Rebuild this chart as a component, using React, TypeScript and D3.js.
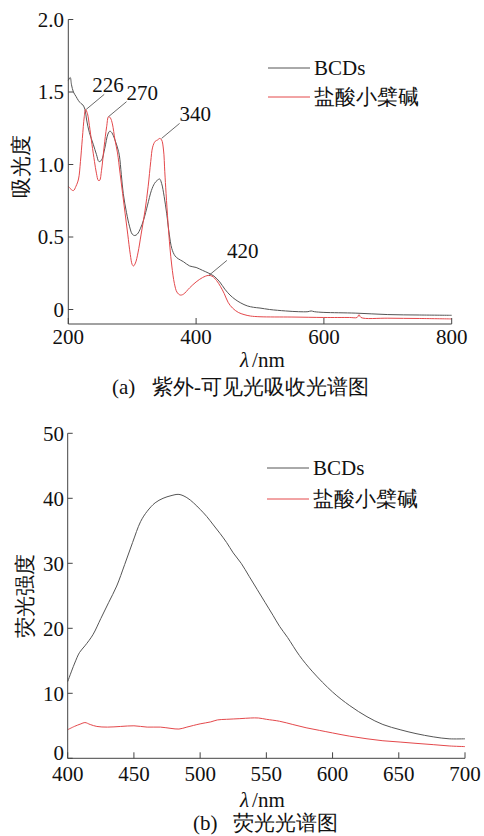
import * as d3 from "d3";

// ── Data ──────────────────────────────────────────────────────────────────────

// (a) UV-vis absorbance
const uvBcdWl = [200, 203, 205, 208, 212, 216, 220, 223, 226, 229, 233, 239, 244, 248, 252, 257, 262, 265, 268, 273, 278, 280, 283, 286, 291, 296, 300, 304, 308, 313, 318, 324, 330, 335, 339, 343, 346, 350, 354, 358, 362, 367, 372, 380, 390, 400, 410, 420, 428, 437, 445, 453, 461, 470, 480, 490, 500, 515, 540, 560, 575, 580, 585, 600, 650, 700, 750, 800];
const uvBcdVal = [1.58, 1.6, 1.55, 1.5, 1.47, 1.44, 1.42, 1.41, 1.38, 1.3, 1.22, 1.14, 1.07, 1.02, 1.03, 1.11, 1.21, 1.23, 1.22, 1.17, 1.1, 1.06, 0.93, 0.8, 0.67, 0.57, 0.52, 0.51, 0.52, 0.56, 0.62, 0.72, 0.82, 0.87, 0.89, 0.9, 0.87, 0.78, 0.66, 0.52, 0.42, 0.37, 0.35, 0.33, 0.3, 0.29, 0.27, 0.25, 0.23, 0.19, 0.14, 0.1, 0.07, 0.045, 0.025, 0.015, 0.01, 0.0, -0.01, -0.015, -0.015, -0.01, -0.015, -0.02, -0.025, -0.035, -0.038, -0.04];

const uvBbrWl = [200, 204, 208, 212, 216, 219, 222, 225, 227, 230, 233, 237, 241, 244, 247, 249, 252, 256, 260, 263, 266, 269, 273, 277, 281, 285, 289, 293, 297, 300, 302, 305, 309, 314, 320, 325, 329, 332, 336, 340, 343, 346, 349, 351, 353, 356, 359, 362, 366, 370, 375, 380, 390, 400, 410, 419, 425, 432, 438, 444, 450, 457, 466, 475, 485, 500, 550, 600, 640, 652, 655, 658, 700, 750, 800];
const uvBbrVal = [0.85, 0.83, 0.82, 0.85, 0.9, 1.02, 1.18, 1.33, 1.38, 1.35, 1.27, 1.14, 1.02, 0.94, 0.89, 0.89, 0.96, 1.12, 1.26, 1.33, 1.32, 1.28, 1.17, 1.08, 0.94, 0.8, 0.66, 0.52, 0.38, 0.31, 0.3, 0.32, 0.39, 0.52, 0.68, 0.85, 1.02, 1.12, 1.16, 1.17, 1.18, 1.17, 1.1, 0.95, 0.8, 0.6, 0.43, 0.3, 0.18, 0.12, 0.1, 0.105, 0.15, 0.19, 0.22, 0.235, 0.23, 0.2, 0.16, 0.11, 0.05, 0.01, -0.02, -0.035, -0.045, -0.05, -0.052, -0.055, -0.055, -0.055, -0.035, -0.055, -0.06, -0.062, -0.065];

const uvXTicks = [200, 400, 600, 800];
const uvYTicks = [0, 0.5, 1.0, 1.5, 2.0];
const uvYTickLabels = ["0", "0.5", "1.0", "1.5", "2.0"];

// peak annotations: label, anchor wavelength, anchor value
const peakLabels = ["226", "270", "340", "420"];
const peakWl = [228, 263, 346, 420];
const peakVal = [1.38, 1.33, 1.18, 0.235];

// (b) fluorescence
const flBcdWl = [400, 405, 409, 413, 419, 425, 431, 437, 443, 449, 455, 460, 466, 472, 478, 484, 490, 495, 500, 505, 510, 515, 520, 525, 531, 537, 543, 549, 555, 560, 566, 575, 585, 600, 613, 626, 638, 651, 663, 676, 688, 700];
const flBcdVal = [11.8, 14.5, 16.3, 17.3, 19.0, 21.5, 24.0, 26.5, 29.8, 33.2, 36.4, 38.0, 39.3, 40.0, 40.4, 40.6, 40.1, 39.3, 38.3, 37.2, 35.9, 34.6, 33.2, 31.6, 30.0, 28.0, 26.0, 24.0, 22.0, 20.3, 18.6, 15.8, 13.3, 10.2, 8.1, 6.4, 5.2, 4.4, 3.8, 3.3, 3.0, 3.0];

const flBbrWl = [400, 405, 410, 413, 417, 422, 430, 440, 450, 460, 470, 478, 484, 490, 500, 508, 513, 520, 530, 538, 544, 550, 560, 570, 580, 590, 600, 613, 626, 638, 651, 663, 676, 688, 700];
const flBbrVal = [4.4, 4.9, 5.3, 5.5, 5.2, 4.9, 4.8, 4.9, 5.0, 4.8, 4.8, 4.6, 4.5, 4.8, 5.3, 5.6, 5.9, 6.0, 6.1, 6.2, 6.2, 6.0, 5.7, 5.2, 4.7, 4.3, 3.9, 3.4, 3.0, 2.7, 2.5, 2.3, 2.1, 1.9, 1.8];

const flXTicks = [400, 450, 500, 550, 600, 650, 700];
const flYTicks = [0, 10, 20, 30, 40, 50];

const seriesNames = ["BCDs", "盐酸小檗碱"];

// ── Style ─────────────────────────────────────────────────────────────────────

const W = 484;
const H = 836;
const AXIS = "#444";
const C_BCD = "#555";
const C_BBR = "#e4484b";
const FS = 21;
// font set on every text element, so nothing outside can override it
const TXT = { fontFamily: '"Liberation Serif"', fontSize: FS, fill: "#111" };

type Pt = [number, number];
const zip = (xs: number[], ys: number[]): Pt[] => xs.map((x, i) => [x, ys[i]]);

// ── Panels ────────────────────────────────────────────────────────────────────

function Legend({ x, y, gap }: { x: number; y: number; gap: number }) {
  const colors = [C_BCD, C_BBR];
  return (
    <g>
      {seriesNames.map((n, i) => (
        <g key={n} transform={`translate(${x},${y + i * gap})`}>
          <line x1={0} x2={42} y1={0} y2={0} stroke={colors[i]} strokeWidth={1} />
          <text x={46} y={0} dy="0.35em" style={TXT}>
            {n}
          </text>
        </g>
      ))}
    </g>
  );
}

function UvPanel() {
  const x = d3.scaleLinear().domain([200, 800]).range([68.3, 451.7]);
  const y = d3.scaleLinear().domain([-0.1, 2.0]).range([324, 19.5]);
  const line = d3
    .line<Pt>()
    .x((d) => x(d[0]))
    .y((d) => y(d[1]))
    .curve(d3.curveCatmullRom);
  const [x0, x1] = x.range();
  const [yb, yt] = y.range();
  return (
    <g>
      <path d={line(zip(uvBcdWl, uvBcdVal)) ?? ""} fill="none" stroke={C_BCD} strokeWidth={1} />
      <path d={line(zip(uvBbrWl, uvBbrVal)) ?? ""} fill="none" stroke={C_BBR} strokeWidth={1} />

      {/* axes */}
      <line x1={x0} x2={x0} y1={yt} y2={yb} stroke={AXIS} />
      <line x1={x0} x2={x1} y1={yb} y2={yb} stroke={AXIS} />
      {uvYTicks.map((t, i) => (
        <g key={t}>
          <line x1={x0} x2={x0 + 5} y1={y(t)} y2={y(t)} stroke={AXIS} />
          <text x={64} y={y(t)} dy="0.35em" textAnchor="end" style={TXT}>
            {uvYTickLabels[i]}
          </text>
        </g>
      ))}
      {uvXTicks.map((t) => (
        <g key={t}>
          <line x1={x(t)} x2={x(t)} y1={yb} y2={yb - 6} stroke={AXIS} />
          <text x={x(t)} y={337} dy="0.35em" textAnchor="middle" style={TXT}>
            {t}
          </text>
        </g>
      ))}

      {/* peak labels */}
      {peakLabels.map((l, i) => {
        const px = x(peakWl[i]);
        const py = y(peakVal[i]);
        const ex = px + 18;
        const ey = py - 15;
        const tx = i === 0 ? ex - 12 : ex;
        return (
          <g key={l}>
            <line x1={px} y1={py} x2={ex} y2={ey} stroke={AXIS} strokeWidth={0.8} />
            <text x={tx} y={ey - 2} style={TXT}>
              {l}
            </text>
          </g>
        );
      })}

      <Legend x={268} y={68} gap={29} />

      <text transform="translate(21,166) rotate(-90)" textAnchor="middle" dy="0.35em" style={TXT}>
        吸光度
      </text>
      <text x={240} y={360} dy="0.35em" style={TXT}>
        <tspan fontStyle="italic">λ</tspan>
        <tspan dx={3}>/nm</tspan>
      </text>
      <text y={387} dy="0.35em" style={TXT}>
        <tspan x={112}>(a)</tspan>
        <tspan x={152}>紫外-可见光吸收光谱图</tspan>
      </text>
    </g>
  );
}

function FlPanel() {
  const x = d3.scaleLinear().domain([400, 700]).range([67.7, 465]);
  const y = d3.scaleLinear().domain([0, 50]).range([758.3, 433.3]);
  const line = d3
    .line<Pt>()
    .x((d) => x(d[0]))
    .y((d) => y(d[1]))
    .curve(d3.curveCatmullRom);
  const [x0, x1] = x.range();
  const [yb, yt] = y.range();
  return (
    <g>
      <path d={line(zip(flBcdWl, flBcdVal)) ?? ""} fill="none" stroke={C_BCD} strokeWidth={1} />
      <path d={line(zip(flBbrWl, flBbrVal)) ?? ""} fill="none" stroke={C_BBR} strokeWidth={1} />

      <line x1={x0} x2={x0} y1={yt} y2={yb} stroke={AXIS} />
      <line x1={x0} x2={x1} y1={yb} y2={yb} stroke={AXIS} />
      {flYTicks.map((t) => (
        <g key={t}>
          <line x1={x0} x2={x0 + 5} y1={y(t)} y2={y(t)} stroke={AXIS} />
          <text x={64} y={t === 0 ? y(t) - 6 : y(t)} dy="0.35em" textAnchor="end" style={TXT}>
            {t}
          </text>
        </g>
      ))}
      {flXTicks.map((t) => (
        <g key={t}>
          <line x1={x(t)} x2={x(t)} y1={yb} y2={yb - 6} stroke={AXIS} />
          <text x={x(t)} y={774} dy="0.35em" textAnchor="middle" style={TXT}>
            {t}
          </text>
        </g>
      ))}

      <Legend x={267} y={468} gap={31} />

      <text transform="translate(25,596) rotate(-90)" textAnchor="middle" dy="0.35em" style={TXT}>
        荧光强度
      </text>
      <text x={240} y={800} dy="0.35em" style={TXT}>
        <tspan fontStyle="italic">λ</tspan>
        <tspan dx={3}>/nm</tspan>
      </text>
      <text y={823} dy="0.35em" style={TXT}>
        <tspan x={193}>(b)</tspan>
        <tspan x={233}>荧光光谱图</tspan>
      </text>
    </g>
  );
}

export default function App() {
  return (
    <svg
      width={W}
      height={H}
      viewBox={`0 0 ${W} ${H}`}
      style={{ position: "absolute", left: 0, top: 0, background: "#fff" }}
    >
      <UvPanel />
      <FlPanel />
    </svg>
  );
}
